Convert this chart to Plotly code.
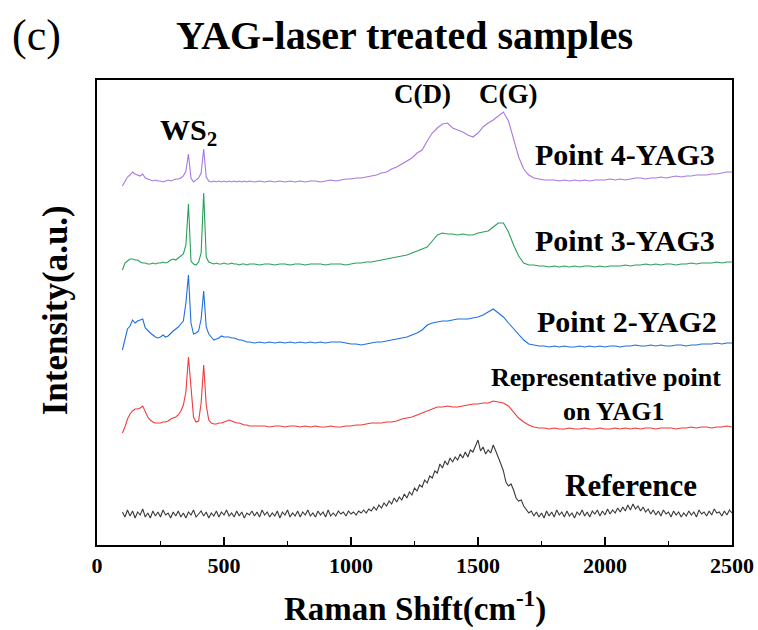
import plotly.graph_objects as go

# Raman shift sampling (cm^-1): fine grid over the WS2 region, coarser above 600
shift = list(range(100, 601, 10)) + list(range(620, 2501, 20))
ref_shift = list(range(100, 2501, 10))

# Intensities (a.u.) above each spectrum's own baseline
point4_yag3 = [
    -3, 2, 6, 8, 11, 9, 8, 7, 9, 5,
    4, 3, 2, 3, 2, 2, 1, 2, 3, 2,
    3, 4, 4, 5, 7, 12, 29, 5, 1, 3,
    5, 10, 34, 6, 2, 1, 2, 1, 2, 1,
    2, 1, 2, 1, 2, 1, 2, 1, 2, 1,
    2,
    1, 2, 1, 2, 1, 2, 1, 2, 1, 2, 1, 2, 2, 1, 2, 3, 2, 3, 4, 4,
    5, 5, 6, 7, 8, 10, 11, 14, 16, 19, 22, 25, 30, 33, 42, 50, 55, 59, 60, 55,
    53, 51, 48, 46, 50, 56, 60, 63, 67, 71, 62, 43, 26, 14, 8,
    5, 4, 3, 3, 3, 2, 3, 2, 3, 2, 3, 2, 3, 3, 3, 4, 3, 4, 3, 4,
    5, 5, 4, 5, 5, 6, 5, 6, 7, 6, 7, 7, 8, 8, 8, 9, 9, 10, 11, 11,
]

point3_yag3 = [
    -5, 2, 4, 6, 6, 5, 5, 3, 2, 2,
    1, 1, 2, 1, 2, 2, 3, 2, 3, 5,
    6, 5, 7, 9, 11, 20, 61, 4, 1, 0,
    3, 12, 72, 8, 3, 2, 1, 2, 1, 1,
    2, 1, 1, 2, 1, 1, 0, 1, 1, 0,
    1,
    1, 0, 1, 1, 0, 1, 1, 0, 1, 1, 0, 1, 1, 1, 0, 1, 1, 1, 0, 1,
    2, 2, 3, 3, 4, 5, 6, 7, 8, 9, 10, 12, 14, 16, 18, 24, 30, 32, 31, 31,
    30, 31, 30, 30, 32, 33, 34, 38, 42, 42, 33, 20, 9, 2, 0,
    0, -1, -1, -2, -1, -2, -1, -2, -1, -2, -1, -1, -2, -1, -2, -1, -1, -1, 0, -1,
    0, 0, 1, 0, 1, 0, 1, 1, 0, 1, 1, 2, 1, 2, 2, 2, 3, 2, 3, 3,
]

point2_yag2 = [
    -7, 3, 14, 17, 23, 20, 22, 23, 24, 15,
    12, 10, 8, 6, 5, 6, 8, 6, 7, 10,
    12, 14, 16, 19, 22, 40, 68, 20, 9, 10,
    12, 24, 52, 16, 9, 6, 3, 4, 5, 7,
    6, 6, 6, 5, 5, 4, 3, 3, 2, 1,
    1,
    0, 1, 0, 1, 0, 1, 0, 1, 0, 1, 0, 1, 0, 1, 0, 1, 1, 1, 0, -1,
    -1, -2, -1, 0, 1, 1, 2, 3, 4, 5, 6, 8, 10, 13, 18, 20, 21, 22, 22, 23,
    24, 24, 24, 25, 26, 28, 31, 34, 30, 26, 20, 14, 8, 3, -1,
    -2, -3, -3, -4, -3, -4, -3, -4, -4, -3, -4, -3, -4, -3, -4, -3, -3, -4, -3, -3,
    -2, -3, -3, -2, -3, -2, -3, -3, -2, -2, -3, -2, -2, -1, -1, -1, 0, -1, 0, 0,
]

yag1_point = [
    -6, 0, 8, 13, 16, 18, 18, 19, 21, 15,
    10, 7, 5, 4, 4, 4, 5, 5, 6, 8,
    9, 10, 12, 16, 22, 35, 70, 38, 10, 5,
    6, 24, 62, 22, 7, 4, 3, 3, 4, 4,
    5, 6, 7, 6, 5, 4, 4, 3, 2, 2,
    1,
    1, 1, 1, 0, 1, 1, 0, 1, 1, 0, 1, 0, 1, 0, 0, 1, 0, 0, 1, 1,
    2, 2, 3, 4, 4, 4, 5, 5, 6, 8, 9, 10, 12, 14, 16, 18, 20, 20, 21, 20,
    20, 21, 22, 23, 23, 24, 24, 26, 25, 24, 21, 15, 9, 5, 2,
    0, -1, -1, -2, -1, -2, -2, -1, -2, -2, -1, -2, -2, -1, -2, -2, -1, -2, -1, -2,
    -1, -2, -1, -1, -2, -1, -1, -1, -2, -1, -1, 0, -1, 0, 0, -1, 0, 0, 1, 0,
]

reference = [
    # 100 - 600
    2, -3, 4, -2, 3, -4, 2, -1, 5, -3,
    1, -4, 3, -2, 2, -3, 4, -1, 1, -4,
    2, -2, 3, -3, 1, -4, 2, -1, 4, -3,
    0, 3, -2, 2, -4, 1, -2, 3, -3, 2,
    -1, 4, -2, 1, -3, 3, -2, 2, -4, 1,
    -1,
    # 610 - 1000
    3, -2, 2, -3, 4, -1, 2, -3, 1, -2,
    3, -4, 2, -1, 4, -3, 1, -2, 3, -3,
    2, -1, 4, -2, 1, -3, 3, -1, 2, -3,
    4, -2, 1, -2, 3, 0, 2, -2, 3, 0,
    # 1010 - 1720
    2, -1, 3, 1, 4, 1, 5, 3, 7, 4,
    9, 6, 11, 8, 13, 10, 16, 12, 17, 14,
    20, 16, 22, 19, 26, 23, 29, 27, 34, 31,
    38, 36, 43, 41, 50, 46, 53, 49, 56, 52,
    57, 54, 60, 56, 62, 57, 64, 62, 68, 74,
    63, 67, 60, 64, 61, 69, 63, 57, 50, 43,
    32, 28, 30, 24, 16, 13, 14, 8, 5, 1,
    3, -2,
    # 1730 - 2500
    2, -3, 1, -4, 3, -2, 2, -3, 4, -1,
    2, -3, 3, -2, 1, -4, 2, -1, 4, -2,
    2, -3, 3, 0, 4, -2, 3, -1, 5, 0,
    4, 1, 6, 2, 7, 3, 9, 4, 10, 5,
    8, 3, 7, 2, 5, 0, 4, -1, 3, -2,
    4, 0, 2, -3, 3, -1, 2, -3, 1, -2,
    3, -1, 2, -3, 4, 0, 2, -2, 3, -1,
    5, 1, 2, -2, 3, -1, 4, 1,
]

# Vertical stacking of the spectra
offsets = {"Reference": 31, "YAG1": 118, "Point 2": 202, "Point 3": 280, "Point 4": 362}

spectra = [
    ("Reference", ref_shift, reference, "#3a3a3a"),
    ("YAG1", shift, yag1_point, "#ee3b3b"),
    ("Point 2", shift, point2_yag2, "#1f6fe0"),
    ("Point 3", shift, point3_yag3, "#27a05a"),
    ("Point 4", shift, point4_yag3, "#a878e0"),
]

fig = go.Figure()
for name, xs, ys, color in spectra:
    off = offsets[name]
    fig.add_trace(go.Scatter(
        x=xs, y=[v + off for v in ys], mode="lines", name=name,
        line=dict(color=color, width=1.1), showlegend=False,
    ))

serif = "Liberation Serif, Times New Roman, serif"

labels = [
    ("WS<sub>2</sub>", 362, 413, "center", 30),
    ("C(D)", 1282, 451, "center", 27),
    ("C(G)", 1620, 451, "center", 27),
    ("Point 4-YAG3", 2440, 391, "right", 30),
    ("Point 3-YAG3", 2440, 305, "right", 30),
    ("Point 2-YAG2", 2448, 224, "right", 30),
    ("Representative point", 2004, 168, "center", 26),
    ("on YAG1", 2035, 134, "center", 26),
    ("Reference", 2102, 60, "center", 31),
]
for text, x, y, anchor, size in labels:
    fig.add_annotation(
        x=x, y=y, xref="x", yref="y", text=f"<b>{text}</b>", showarrow=False,
        xanchor=anchor, yanchor="middle",
        font=dict(family=serif, size=size, color="black"),
    )

fig.add_annotation(
    x=0.485, y=1.095, xref="paper", yref="paper", showarrow=False,
    text="<b>YAG-laser treated samples</b>", xanchor="center", yanchor="middle",
    font=dict(family=serif, size=40, color="black"),
)
fig.add_annotation(
    x=-0.095, y=1.095, xref="paper", yref="paper", showarrow=False,
    text="(c)", xanchor="center", yanchor="middle",
    font=dict(family=serif, size=44, color="black"),
)
fig.add_annotation(
    x=0.5, y=-0.133, xref="paper", yref="paper", showarrow=False,
    text="<b>Raman Shift(cm<sup>-1</sup>)</b>", xanchor="center", yanchor="middle",
    font=dict(family=serif, size=33, color="black"),
)
fig.add_annotation(
    x=-0.066, y=0.505, xref="paper", yref="paper", showarrow=False,
    text="<b>Intensity(a.u.)</b>", textangle=-90, xanchor="center", yanchor="middle",
    font=dict(family=serif, size=35, color="black"),
)

fig.update_xaxes(
    range=[0, 2500], tickvals=[0, 500, 1000, 1500, 2000, 2500],
    tickfont=dict(family=serif, size=22, color="black", weight="bold"),
    ticks="inside", ticklen=8, tickwidth=1.5, tickcolor="black",
    minor=dict(ticks="inside", ticklen=4, tickwidth=1.2, tickcolor="black", dtick=250, tick0=0),
    showline=True, linecolor="black", linewidth=1.8, mirror=True,
    showgrid=False, zeroline=False, ticklabelstandoff=0, automargin=False,
)
fig.update_yaxes(
    range=[0, 465], showticklabels=False, ticks="",
    showline=True, linecolor="black", linewidth=1.8, mirror=True,
    showgrid=False, zeroline=False, automargin=False,
)
fig.update_layout(
    width=758, height=630,
    margin=dict(l=97, r=26, t=80, b=85),
    plot_bgcolor="white", paper_bgcolor="white",
)

fig.write_html("out.html")
